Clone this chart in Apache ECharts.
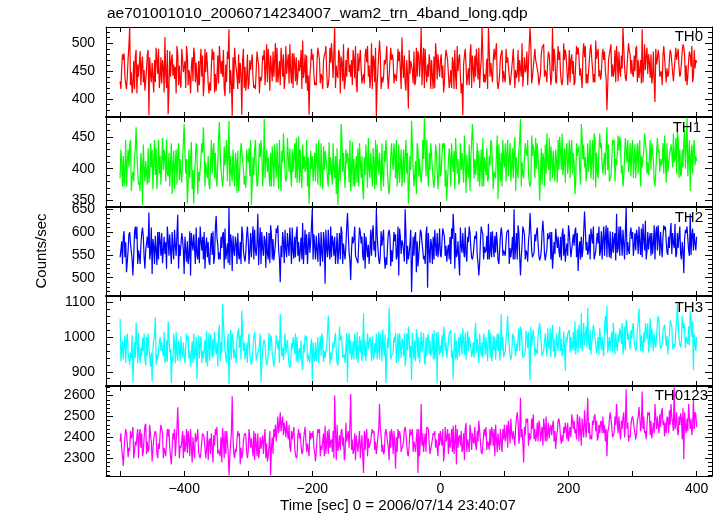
<!DOCTYPE html>
<html>
<head>
<meta charset="utf-8">
<script src="https://cdn.jsdelivr.net/npm/echarts@6/dist/echarts.min.js"></script>
<style>
html,body{margin:0;padding:0;background:#fff;}
#chart{width:722px;height:516px;}
</style>
</head>
<body>
<div id="chart"></div>
<script>
// ---- data ----
// main samples at t = -500, -495, ... 400 s
// q1 at t+1.25, mid at t+2.5, q3 at t+3.75 (between main samples)
const T_START = -500;
const T_STEP = 5;

const th0 = [
432,470,418,529,425,488,440,476,412,371,465,430,490,428,511,373,468,436,482,420,
445,478,410,492,438,466,405,484,430,470,415,495,440,462,525,370,468,480,372,458,
418,466,425,470,432,488,430,478,440,492,425,480,445,498,420,475,450,505,428,372,
470,430,492,440,482,425,500,529,438,476,418,485,440,472,412,488,445,466,420,478,
370,505,430,472,415,480,440,468,510,428,383,470,425,486,529,420,462,418,476,435,
470,412,488,432,466,418,480,371,462,425,478,440,492,529,430,529,445,470,418,482,
438,475,425,490,445,468,420,485,529,440,472,428,495,445,478,529,432,470,425,488,
448,480,430,492,455,475,428,498,445,482,435,470,380,478,440,495,450,529,432,486,
445,490,438,525,452,480,428,395,488,450,495,440,482,430,470,445,492,425,478,440,
465];
const th0Q1 = [
418,482,440,425,468,410,486,430,452,475,438,492,420,470,445,415,480,458,425,490,
468,425,458,480,412,490,428,462,415,485,440,470,488,430,410,475,455,428,470,415,
428,480,418,462,440,425,490,455,470,430,492,418,465,450,482,425,460,438,478,440,
480,425,470,418,495,440,472,420,488,465,428,492,470,438,482,455,428,495,440,470,
425,478,438,495,420,470,432,485,460,415,488,452,430,478,425,490,440,470,420,480,
480,428,470,452,418,495,440,462,425,480,455,490,420,476,445,488,430,470,428,488,
430,478,452,420,488,440,475,425,492,438,470,445,498,430,480,450,428,485,440,478,
488,445,430,478,420,495,448,472,430,490,445,485,425,498,450,470,440,492,430,480,
440,495,452,430,478,465,440,490,475,425,492,445,480,430,490,445,478,440,458,488];
const th0Mid = [
455,440,472,448,418,462,425,452,480,446,412,470,438,458,420,486,442,410,460,472,
420,452,475,430,468,440,490,428,458,412,478,445,420,485,452,418,440,465,490,436,
470,438,452,410,478,455,465,432,500,445,470,438,480,428,466,442,488,450,415,462,
445,470,428,468,450,492,438,460,480,432,470,448,425,495,450,428,478,440,500,430,
452,418,470,440,492,428,455,482,438,470,445,428,492,440,465,448,480,440,500,456,
438,470,445,420,488,450,410,478,440,498,430,465,452,430,472,440,468,500,445,430,
490,440,470,452,430,500,448,462,428,490,446,480,440,470,425,490,465,448,500,452,
430,468,495,442,480,428,470,455,505,440,478,452,470,440,488,432,478,458,480,445,
478,430,470,455,492,438,485,462,440,478,430,470,448,492,458,485,432,470,495,455];
const th0Q3 = [
480,428,495,410,476,440,462,415,488,430,470,445,475,412,488,440,462,495,430,448,
495,440,432,465,425,478,448,410,490,445,428,468,405,472,430,492,418,445,420,480,
452,420,485,440,470,498,415,485,430,468,440,495,428,482,432,470,418,480,442,490,
425,492,445,478,420,465,485,442,410,498,440,462,488,425,470,438,490,460,418,492,
480,440,462,418,470,445,490,418,478,442,468,485,440,470,492,430,465,418,478,440,
460,488,420,475,440,470,428,490,455,420,478,435,470,445,418,465,490,432,475,450,
465,425,490,438,470,422,455,498,440,470,425,492,452,485,440,475,495,430,470,425,
470,425,480,455,500,445,488,430,472,452,490,435,480,462,430,485,455,438,500,470,
450,470,428,498,445,480,430,472,445,495,455,488,432,470,440,498,460,485,430,470];

const th1 = [
385,420,372,438,395,465,380,343,412,378,430,390,445,375,418,388,440,368,425,392,
470,345,415,345,430,380,465,395,368,428,385,473,372,418,475,380,425,365,440,388,
410,343,430,378,445,478,395,425,372,440,400,455,385,432,395,448,378,438,402,345,
420,380,445,390,428,372,418,385,343,470,395,425,365,415,378,440,352,410,385,432,
375,425,390,445,360,412,385,438,372,418,345,475,392,430,378,480,398,440,370,425,
388,432,350,418,395,448,380,425,362,438,470,390,428,372,415,385,440,398,352,425,
402,445,380,430,395,478,385,420,372,438,400,350,425,392,448,385,430,398,455,378,
412,445,360,430,470,402,440,385,455,395,432,410,465,380,438,405,450,372,428,410,
445,385,432,402,458,390,440,372,425,405,452,395,438,410,460,388,442,480,365,430,
412];
const th1Q1 = [
430,372,410,445,380,425,365,438,415,390,368,432,392,448,380,425,360,410,440,378,
425,375,442,392,360,418,428,385,410,440,372,428,388,445,372,430,412,385,440,370,
432,378,445,405,428,385,418,372,438,398,365,425,448,392,418,378,430,400,445,385,
380,440,405,368,428,442,375,420,392,448,370,415,398,372,432,385,418,370,425,410,
438,395,372,425,382,398,445,378,402,445,375,435,412,388,395,430,372,440,390,368,
395,440,385,372,428,392,440,378,422,365,438,405,372,448,390,420,440,385,438,372,
440,388,402,450,385,372,418,445,380,425,440,392,415,455,380,428,412,450,390,425,
445,392,380,435,450,418,395,410,448,385,440,425,398,388,445,402,438,385,410,440,
385,418,445,402,430,392,440,395,430,410,452,392,425,415,445,392,460,388,420,445];
const th1Mid = [
410,395,430,365,418,392,425,402,375,440,412,368,420,398,445,372,405,430,382,415,
392,430,368,412,395,440,372,420,445,385,410,398,435,380,420,398,362,415,400,430,
388,418,400,440,372,415,390,435,412,368,428,392,418,372,440,405,390,420,372,428,
398,415,372,435,405,390,440,360,415,395,430,378,442,400,372,420,390,448,398,368,
410,365,428,392,418,440,372,405,430,392,420,398,360,415,445,388,425,402,438,392,
420,372,410,440,368,415,398,452,395,418,385,440,402,372,432,405,368,425,410,445,
380,415,432,365,428,410,440,395,452,385,418,432,372,410,435,400,378,428,405,440,
385,425,440,398,415,380,418,445,370,428,405,390,438,412,380,452,392,420,445,388,
415,440,372,428,392,445,412,425,395,440,378,420,402,448,385,430,400,418,438,405];
const th1Q3 = [
372,445,402,385,430,375,410,380,432,402,445,395,375,430,392,410,428,375,415,440,
415,385,398,440,380,425,410,375,392,425,448,385,405,420,395,372,428,440,375,418,
445,390,372,418,398,430,372,410,385,445,410,380,395,430,385,450,370,395,418,400,
425,375,440,398,382,418,400,432,380,425,408,445,372,420,440,368,438,398,372,445,
392,440,410,370,440,420,395,430,378,425,398,372,440,390,415,445,398,380,425,440,
440,398,432,412,448,375,425,410,385,440,415,380,430,418,380,445,395,452,380,415,
425,440,385,418,445,392,425,378,420,448,392,375,438,398,420,380,445,398,432,392,
430,408,420,375,438,402,445,382,425,455,392,438,380,445,415,428,405,448,395,430,
438,392,420,455,410,398,380,448,415,392,440,418,455,392,430,402,435,445,392,420];

const th2 = [
545,590,512,600,505,585,548,610,560,643,508,592,540,598,552,585,530,605,638,545,
508,580,505,595,550,612,540,588,528,602,635,555,595,540,653,515,590,548,612,535,
585,545,605,640,530,592,552,615,538,598,490,580,545,610,558,595,535,620,550,600,
650,540,598,552,487,605,545,590,530,612,555,642,495,585,548,600,538,592,560,615,
650,530,588,545,605,535,595,505,582,650,540,468,590,525,600,548,478,585,540,598,
550,605,535,590,640,545,505,598,552,612,540,585,505,602,555,618,545,592,538,610,
560,598,545,650,540,505,605,555,642,548,600,538,625,552,590,520,608,560,595,535,
615,548,602,515,590,645,550,608,540,598,560,612,545,602,555,640,548,605,655,552,
600,560,612,545,625,562,598,540,615,568,605,550,620,565,598,552,510,612,640,560,
590];
const th2Q1 = [
560,602,535,575,548,612,530,590,575,540,585,560,600,532,578,548,600,570,520,598,
590,530,598,565,540,582,600,545,575,530,588,540,600,555,528,592,575,540,598,555,
530,585,560,528,600,582,540,595,555,615,570,532,598,578,542,612,560,530,595,555,
540,592,570,535,605,560,592,530,560,600,540,595,560,612,532,575,598,545,605,560,
595,550,605,528,590,565,540,608,575,595,552,535,600,548,578,530,598,572,605,545,
545,590,560,530,598,552,610,560,535,598,550,602,530,595,560,540,602,555,530,595,
548,605,562,540,615,545,595,535,600,555,610,545,598,562,600,548,612,545,608,560,
598,548,610,560,545,608,560,592,540,575,602,548,610,542,585,555,612,575,550,598,
548,605,575,618,540,585,552,598,585,545,612,590,552,618,565,540,585,615,550,598];
const th2Mid = [
580,545,560,575,598,530,572,545,590,555,570,528,580,560,520,595,565,548,572,585,
560,548,575,530,588,560,520,578,598,545,572,590,520,575,595,560,530,578,560,590,
560,612,548,575,565,522,598,540,575,560,545,605,570,530,590,548,588,565,530,578,
595,560,525,600,565,540,578,560,598,530,572,555,590,548,575,590,520,572,548,580,
565,602,545,570,525,600,548,590,560,530,575,590,512,575,560,595,560,530,572,565,
580,548,572,608,520,580,570,545,590,565,572,548,580,540,592,555,570,600,560,548,
580,530,590,565,598,572,540,580,560,595,575,560,552,598,540,578,565,590,548,575,
570,595,545,580,562,560,595,575,558,612,540,590,575,560,598,565,582,540,578,610,
570,590,550,585,558,598,575,612,548,590,580,565,598,545,590,578,605,560,592,575];
const th2Q3 = [
530,578,595,540,612,560,598,520,565,610,530,600,548,590,612,560,540,595,548,560,
535,602,560,610,532,590,568,535,550,610,540,565,608,532,580,548,598,530,545,612,
598,540,578,610,548,600,532,585,608,540,600,562,548,610,545,578,540,605,570,612,
570,535,600,582,545,612,548,598,540,575,610,538,575,545,610,548,590,530,598,545,
540,570,520,598,560,580,612,552,535,570,605,548,580,605,540,612,532,590,548,608,
608,570,540,585,598,538,555,610,578,545,592,532,612,568,540,600,545,578,592,560,
600,565,540,598,548,612,560,598,545,580,548,600,538,585,600,552,590,538,595,548,
545,570,598,540,600,578,540,612,580,548,585,615,545,600,538,612,548,600,560,585,
598,552,608,560,600,548,615,560,600,615,555,598,575,552,612,560,598,548,608,560];

const th3 = [
1052,935,990,920,870,1042,945,998,918,975,872,1056,940,985,925,1045,868,980,930,1002,
945,990,915,1010,878,985,940,1018,930,995,950,1035,1095,955,865,1010,948,1025,1076,935,
990,920,1015,945,870,992,930,1005,915,985,1066,935,975,912,1000,930,968,905,990,940,
875,985,925,1010,940,1062,935,995,918,1005,950,870,990,935,1015,955,1068,925,1000,945,
1010,935,1022,868,1085,950,1012,930,995,915,1030,875,990,940,1015,930,998,945,1020,866,
975,1030,940,1005,878,990,945,1025,935,1000,955,1040,925,985,948,1015,930,1000,960,1066,
950,1060,935,1010,960,1030,945,1002,875,1020,958,1040,940,1012,965,1035,950,1008,945,902,
1010,962,1045,955,1068,975,1085,950,1030,968,1020,945,1090,960,1040,975,1025,950,1050,982,
1030,960,1082,975,1040,955,1025,985,1060,968,1035,950,1045,985,1095,970,1040,990,1075,905,
1000];
const th3Q1 = [
930,975,1010,955,935,990,925,960,1000,940,968,920,985,960,935,1005,945,925,990,955,
925,1002,950,935,968,1002,945,915,1008,945,985,930,1040,925,955,995,925,968,1010,950,
1010,940,985,962,922,978,950,998,935,965,1000,938,992,920,985,1000,935,978,1002,925,
985,930,965,990,940,1005,938,1012,960,985,925,1002,935,1010,925,992,945,1010,985,935,
935,1008,975,940,1012,955,925,1010,985,940,998,1012,930,1000,955,920,1008,960,935,1015,
955,1010,940,1020,960,935,1010,982,940,1005,985,955,1010,940,1000,1022,950,935,1010,962,
960,1002,945,1015,955,1020,948,968,1030,990,950,1015,960,945,1025,958,1010,1030,952,1000,
1020,970,950,1035,960,1005,990,955,1030,1000,962,1025,955,990,1035,960,1015,970,1040,965,
1040,970,1020,955,1035,990,1020,970,1045,978,1030,985,1030,970,1040,990,1025,980,1050,1010];
const th3Mid = [
960,1005,955,940,985,925,970,1010,945,915,992,950,1000,945,990,955,930,1015,965,940,
972,938,988,950,1005,925,992,958,972,1015,915,985,1002,978,1020,938,990,1005,960,982,
955,968,932,980,960,940,1012,950,965,990,945,1010,948,982,952,925,990,955,930,972,
948,960,1002,928,975,920,985,955,1030,940,968,1010,948,978,960,930,990,965,930,982,
960,985,945,998,935,1000,965,978,945,1010,940,968,1022,925,980,1000,950,1010,962,985,
1005,960,985,940,1012,960,992,948,1018,972,940,995,968,1010,965,940,1005,980,932,1000,
995,972,1000,945,1025,978,960,1015,972,945,1002,978,985,1025,942,995,978,960,1015,985,
955,1015,980,1005,995,1030,962,1008,985,950,1000,1060,978,1015,950,1008,980,1030,992,1020,
985,1025,960,1012,995,1055,960,1005,990,1020,975,1010,965,1020,1000,1060,968,1030,1000,985];
const th3Q3 = [
990,925,960,1005,940,1012,945,935,1010,955,1008,935,960,1015,928,965,1010,950,930,985,
1010,960,925,1000,938,960,925,1012,940,968,1010,952,960,1010,935,965,1012,935,985,925,
932,1000,945,1010,985,918,960,935,1005,925,968,952,918,965,1010,958,925,1005,950,995,
930,1000,945,960,1010,955,968,925,990,935,1012,950,988,935,1002,965,930,985,1002,955,
1015,930,1008,968,945,985,1010,940,1010,962,975,935,1000,965,1012,945,990,935,1012,948,
942,985,1010,962,935,1000,950,1012,960,942,1012,960,945,990,930,1012,962,1010,958,942,
1018,945,1010,980,960,940,1018,950,1000,968,1022,945,1010,975,1005,940,960,995,970,1010,
1000,960,1022,968,1040,970,1020,1035,952,1025,968,1010,1000,955,1012,985,1040,962,1010,995,
990,1045,1005,985,1040,970,1010,1040,965,1025,1002,1048,980,1045,978,1025,1000,975,1045,960];

const th0123 = [
2380,2263,2420,2335,2450,2360,2410,2310,2465,2345,2285,2430,2370,2455,2330,2405,2270,2440,2544,2350,
2410,2325,2440,2345,2395,2300,2425,2340,2395,2280,2410,2330,2445,2320,2218,2597,2345,2405,2300,2420,
2335,2395,2290,2420,2345,2390,2285,2218,2440,2380,2520,2410,2480,2355,2420,2300,2395,2330,2445,2310,
2400,2285,2420,2340,2455,2320,2390,2600,2335,2430,2290,2405,2608,2340,2415,2300,2230,2440,2350,2420,
2320,2560,2365,2440,2290,2410,2250,2395,2335,2450,2310,2420,2360,2230,2560,2380,2445,2325,2410,2345,
2430,2285,2400,2350,2455,2270,2410,2345,2470,2330,2420,2360,2480,2320,2405,2370,2450,2310,2420,2380,
2460,2350,2490,2400,2520,2590,2280,2470,2390,2510,2410,2465,2360,2500,2395,2455,2345,2490,2410,2470,
2380,2510,2420,2475,2360,2530,2590,2410,2500,2385,2470,2420,2310,2520,2400,2560,2430,2495,2630,2410,
2500,2390,2545,2620,2430,2505,2395,2560,2450,2520,2405,2490,2560,2640,2430,2515,2295,2490,2440,2580,
2450];
const th0123Q1 = [
2420,2340,2370,2430,2300,2405,2440,2330,2320,2460,2340,2410,2345,2420,2310,2440,2345,2310,2430,2380,
2330,2430,2350,2300,2440,2330,2400,2430,2320,2410,2450,2310,2390,2430,2300,2400,2330,2420,2320,2410,
2440,2350,2420,2300,2380,2440,2310,2350,2400,2500,2430,2470,2420,2330,2450,2310,2420,2380,2330,2430,
2430,2330,2440,2380,2320,2440,2330,2420,2360,2440,2320,2430,2340,2420,2330,2360,2430,2310,2380,2430,
2360,2440,2320,2410,2430,2320,2400,2430,2330,2420,2360,2440,2330,2440,2360,2420,2440,2320,2430,2310,
2390,2330,2440,2380,2320,2440,2360,2420,2330,2460,2380,2340,2430,2360,2450,2340,2420,2460,2370,2330,
2380,2480,2420,2360,2480,2400,2450,2490,2400,2390,2470,2380,2490,2380,2440,2480,2400,2460,2380,2440,
2420,2480,2440,2380,2490,2460,2420,2390,2510,2400,2480,2460,2430,2490,2420,2470,2390,2520,2440,2400,
2480,2420,2500,2440,2390,2520,2430,2490,2420,2540,2470,2420,2500,2440,2410,2490,2520,2430,2490,2440];
const th0123Mid = [
2345,2400,2305,2395,2330,2440,2350,2400,2380,2410,2390,2320,2420,2300,2380,2350,2420,2380,2300,2430,
2360,2390,2280,2420,2330,2380,2350,2290,2420,2360,2320,2400,2300,2380,2370,2320,2390,2270,2380,2330,
2400,2310,2370,2330,2410,2300,2360,2400,2460,2420,2470,2440,2390,2430,2350,2410,2360,2420,2370,2390,
2350,2400,2310,2420,2380,2350,2430,2290,2410,2360,2470,2350,2390,2290,2380,2410,2340,2395,2420,2340,
2400,2410,2330,2380,2350,2430,2330,2410,2380,2370,2440,2330,2400,2310,2420,2330,2370,2390,2350,2420,
2360,2450,2320,2440,2380,2350,2430,2290,2390,2420,2370,2430,2380,2420,2340,2440,2360,2390,2340,2440,
2410,2430,2390,2450,2370,2440,2410,2360,2490,2440,2380,2420,2450,2420,2460,2380,2430,2400,2450,2390,
2450,2440,2390,2500,2440,2400,2470,2480,2430,2460,2420,2380,2440,2450,2500,2420,2480,2400,2470,2460,
2440,2480,2430,2500,2460,2410,2470,2440,2510,2460,2420,2530,2470,2460,2500,2390,2450,2560,2410,2520];
const th0123Q3 = [
2310,2440,2350,2410,2380,2300,2420,2455,2330,2380,2420,2300,2460,2350,2440,2310,2390,2440,2360,2300,
2440,2310,2400,2380,2310,2420,2300,2380,2350,2440,2340,2280,2430,2330,2420,2300,2430,2350,2410,2300,
2350,2430,2310,2400,2320,2370,2430,2320,2380,2460,2500,2400,2460,2390,2320,2440,2320,2450,2340,2420,
2330,2440,2360,2310,2430,2380,2300,2460,2340,2400,2380,2460,2320,2410,2430,2310,2410,2350,2440,2380,
2440,2330,2420,2350,2440,2370,2440,2330,2430,2320,2410,2380,2440,2390,2330,2450,2320,2420,2390,2360,
2440,2380,2420,2330,2460,2400,2330,2440,2370,2340,2450,2380,2330,2440,2380,2360,2440,2330,2440,2390,
2460,2370,2430,2490,2400,2370,2490,2420,2440,2380,2480,2450,2380,2470,2410,2430,2480,2370,2420,2470,
2400,2480,2510,2430,2400,2480,2390,2460,2480,2420,2500,2440,2480,2400,2460,2500,2440,2460,2380,2490,
2420,2500,2460,2420,2520,2480,2420,2500,2450,2480,2500,2460,2430,2520,2460,2540,2420,2490,2450,2510];

const panelNames = ['TH0','TH1','TH2','TH3','TH0123'];
const colors = ['#ff0000','#00ff00','#0000ff','#00ffff','#ff00ff'];
const seriesMain = [th0, th1, th2, th3, th0123];
const seriesQ1 = [th0Q1, th1Q1, th2Q1, th3Q1, th0123Q1];
const seriesMid = [th0Mid, th1Mid, th2Mid, th3Mid, th0123Mid];
const seriesQ3 = [th0Q3, th1Q3, th2Q3, th3Q3, th0123Q3];

// axis ranges and ticks
const xRange = [-522, 424];
const xTicks = [-500,-400,-300,-200,-100,0,100,200,300,400];
const xLabels = [-400,-200,0,200,400];
const yRanges = [[368,529],[340,481],[460,655],[859,1118],[2215,2646]];
const yMajor = [[400,450,500],[350,400,450],[500,550,600,650],[900,1000,1100],[2300,2400,2500,2600]];
const yMinorStep = [10,10,10,20,20];

// ---- layout ----
const tops = [27,117,207,296,386];
const heights = [90,90,89,90,90];
const LEFT = 106, RIGHT = 10;
const FONT = 'Liberation Sans, Arial, Helvetica, sans-serif';

function fmt(v){ return v < 0 ? '\u2212' + Math.abs(v) : String(v); }
function minors(i){
  const out = [];
  const s = yMinorStep[i];
  for (let v = Math.ceil(yRanges[i][0]/s)*s; v <= yRanges[i][1]; v += s) {
    if (yMajor[i].indexOf(v) < 0) out.push(v);
  }
  return out;
}
function points(i){
  const main = seriesMain[i], subs = [seriesQ1[i], seriesMid[i], seriesQ3[i]];
  const pts = [];
  for (let j = 0; j < main.length; j++) {
    const t = T_START + j*T_STEP;
    pts.push([t, main[j]]);
    if (j === main.length - 1) break;
    subs.forEach((arr, k) => {
      if (j < arr.length) pts.push([t + T_STEP*(k+1)/4, arr[j]]);
    });
  }
  return pts;
}

const grids = [], xAxes = [], yAxes = [], series = [];
for (let i = 0; i < 5; i++) {
  grids.push({left: LEFT, right: RIGHT, top: tops[i], height: heights[i], containLabel: false});
  const lineStyle = {color:'#000', width:1};
  ['bottom','top'].forEach((pos, k) => {
    const inner = (k === 0 && i < 4);
    xAxes.push({
      type:'value', gridIndex:i, position:pos, min:xRange[0], max:xRange[1],
      axisLine:{show:true, onZero:false, lineStyle:{color:'#000', width: inner ? 2 : 1}},
      axisTick:{show:true, inside:true, length:5, customValues:xTicks, lineStyle},
      axisLabel:{show: (i === 4 && k === 0), customValues:xLabels, formatter:fmt,
        color:'#000', fontSize:14, fontFamily:FONT, margin:6},
      splitLine:{show:false}
    });
  });
  ['left','right'].forEach((pos, k) => {
    yAxes.push({
      type:'value', gridIndex:i, position:pos, min:yRanges[i][0], max:yRanges[i][1],
      axisLine:{show:true, onZero:false, lineStyle},
      axisTick:{show:true, inside:true, length:7, customValues:yMajor[i], lineStyle},
      axisLabel:{show: k === 0, customValues:yMajor[i], formatter:fmt,
        color:'#000', fontSize:14, fontFamily:FONT, margin:11},
      splitLine:{show:false}
    });
    yAxes.push({
      type:'value', gridIndex:i, position:pos, min:yRanges[i][0], max:yRanges[i][1],
      axisLine:{show:false, onZero:false},
      axisTick:{show:true, inside:true, length:4, customValues:minors(i), lineStyle},
      axisLabel:{show:false},
      splitLine:{show:false}
    });
  });
  series.push({
    type:'line', xAxisIndex:2*i, yAxisIndex:4*i,
    data: points(i),
    showSymbol:false, symbol:'none', silent:true, sampling:null,
    lineStyle:{color:colors[i], width:1.2},
    itemStyle:{color:colors[i]},
    clip:true, animation:false
  });
}

const graphics = [
  {type:'text', left:107, top:6, style:{text:'ae701001010_20060714234007_wam2_trn_4band_long.qdp', font:'15.5px ' + FONT, fill:'#000'}},
  {type:'text', x:398, y:506, style:{text:'Time [sec] 0 = 2006/07/14 23:40:07', font:'15px ' + FONT, fill:'#000', align:'center', verticalAlign:'middle'}},
  {type:'text', x:42, y:251, rotation:Math.PI/2, style:{text:'Counts/sec', font:'15px ' + FONT, fill:'#000', align:'center', verticalAlign:'middle'}}
];
const labelPos = [[703,37],[701,127.5],[703,217.5],[703,307.5],[708,396]];
panelNames.forEach((n, i) => {
  graphics.push({type:'text', x:labelPos[i][0], y:labelPos[i][1], z:100,
    style:{text:n, font:'15px ' + FONT, fill:'#000', align:'right', verticalAlign:'middle'}});
});

const chart = echarts.init(document.getElementById('chart'), null, {renderer:'canvas'});
chart.setOption({
  animation:false,
  backgroundColor:'#fff',
  grid:grids, xAxis:xAxes, yAxis:yAxes, series:series,
  graphic:graphics
});
</script>
</body>
</html>
